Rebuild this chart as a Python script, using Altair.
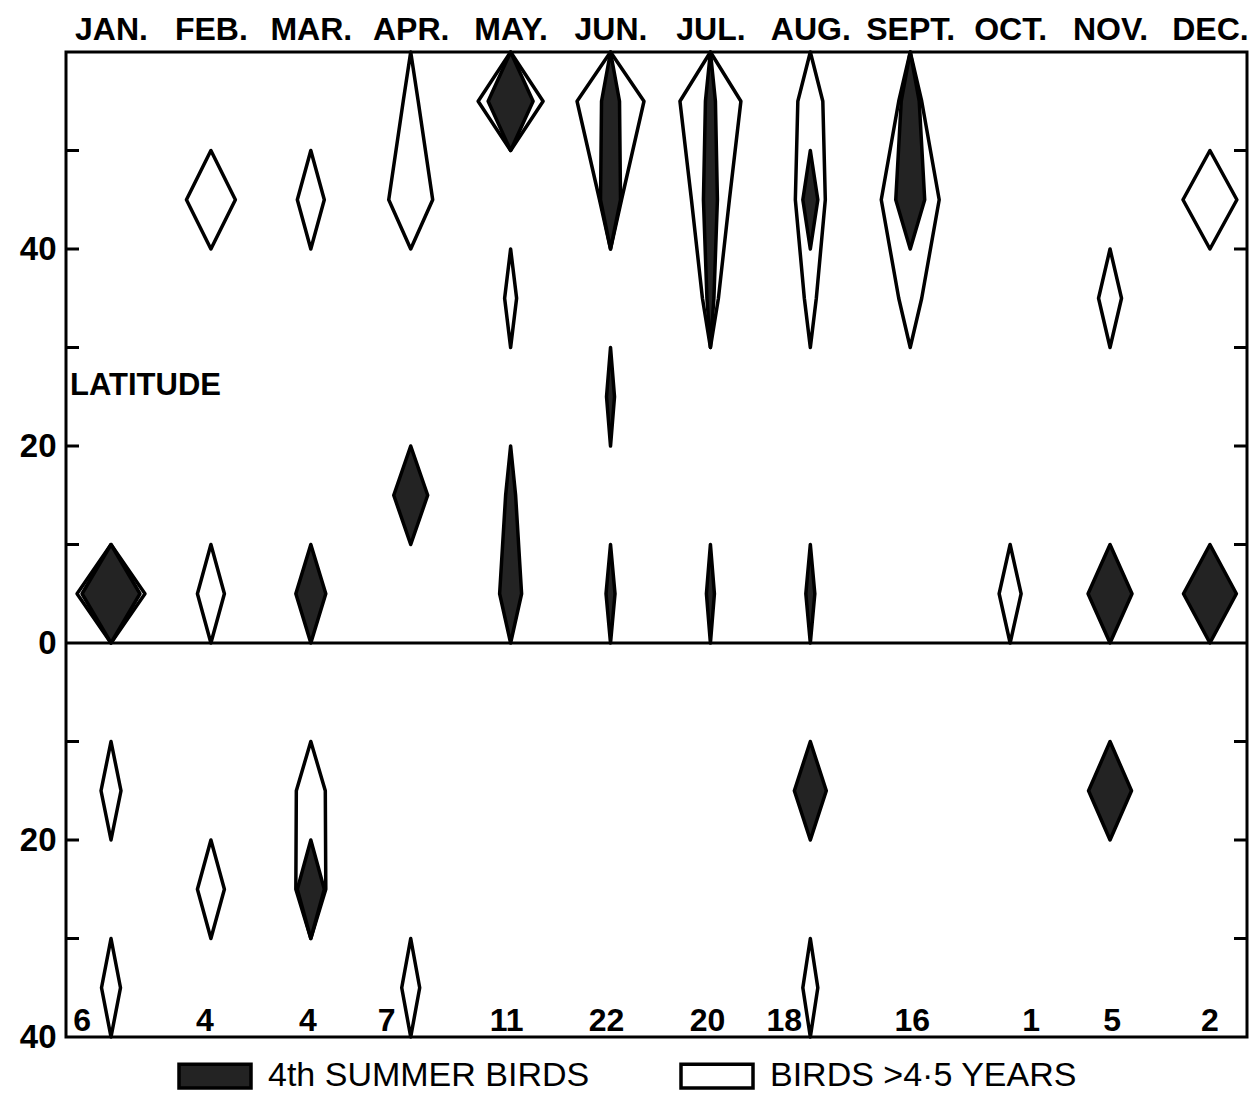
import json
import altair as alt
import pandas as pd

# ---------------- data ----------------
MONTHS = ["JAN.", "FEB.", "MAR.", "APR.", "MAY.", "JUN.", "JUL.", "AUG.", "SEPT.", "OCT.", "NOV.", "DEC."]
SAMPLE_N = [6, 4, 4, 7, 11, 22, 20, 18, 16, 1, 5, 2]
N_LABEL_SHIFT = [-0.29, -0.06, -0.03, -0.24, -0.04, -0.04, -0.03, -0.26, 0.02, 0.21, 0.02, 0.0]

SERIES_FILLED = "4th SUMMER BIRDS"
SERIES_OPEN = "BIRDS >4·5 YEARS"

# each kite: (month 1-12, [(latitude band centre, kite half-width), ...]); south negative
OPEN_KITES = [
    (1, [(5, 34)]), (1, [(-15, 10)]), (1, [(-35, 9.5)]),
    (2, [(45, 24.5)]), (2, [(5, 13.5)]), (2, [(-25, 13.5)]),
    (3, [(45, 13.5)]), (3, [(-15, 14.5), (-25, 15)]),
    (4, [(45, 22), (55, 7.5)]), (4, [(-35, 9)]),
    (5, [(55, 32.5)]), (5, [(35, 6)]),
    (6, [(45, 11), (55, 33.5)]),
    (7, [(35, 8), (45, 19), (55, 30.5)]),
    (8, [(35, 6), (45, 15), (55, 12.5)]), (8, [(-35, 7.5)]),
    (9, [(35, 11.5), (45, 29), (55, 11.5)]),
    (10, [(5, 11)]),
    (11, [(35, 11.5)]),
    (12, [(45, 27)]),
]

FILLED_KITES = [
    (1, [(5, 29)]),
    (3, [(5, 15)]), (3, [(-25, 13.5)]),
    (4, [(15, 17)]),
    (5, [(55, 22.5)]), (5, [(5, 11), (15, 5)]),
    (6, [(45, 10), (55, 9)]), (6, [(25, 4)]), (6, [(5, 4.5)]),
    (7, [(35, 3.5), (45, 7), (55, 5)]), (7, [(5, 4)]),
    (8, [(45, 7.5)]), (8, [(5, 4.5)]), (8, [(-15, 16)]),
    (9, [(45, 14.5), (55, 9)]),
    (11, [(5, 22)]), (11, [(-15, 21.5)]),
    (12, [(5, 26.5)]),
]

TICK_LATS = [50, 40, 30, 20, 10, -10, -20, -30]
Y_LABEL_LATS = [40, 20, 0, -20, -40]

# ---------------- build tables ----------------
rows = []
kid = 0
for series, kites in ((SERIES_OPEN, OPEN_KITES), (SERIES_FILLED, FILLED_KITES)):
    for month, bands in kites:
        kid += 1
        bands = sorted(bands)
        pts = [(bands[0][0] - 5, 0)] + list(bands) + [(bands[-1][0] + 5, 0)]
        for lat, w in pts:
            rows.append({"kite": f"k{kid:02d}", "series": series, "month": month, "lat": lat, "w": w})
kites_df = pd.DataFrame(rows)

counts_df = pd.DataFrame({
    "month": list(range(1, 13)),
    "n": SAMPLE_N,
    "shift": N_LABEL_SHIFT,
})

W, H = 1181, 985
FONT = "Liberation Sans"

xscale = alt.Scale(domain=[0.5495, 12.371], nice=False, zero=False)
yscale = alt.Scale(domain=[-40, 60], nice=False, zero=False)

fill_enc = alt.Fill(
    "series:N",
    scale=alt.Scale(domain=[SERIES_FILLED, SERIES_OPEN], range=["#232323", "white"]),
    legend=alt.Legend(
        title=None, orient="none", legendX=111, legendY=986, direction="horizontal",
        symbolType="M-1,-0.33H1V0.33H-1Z", symbolSize=5184,
        symbolStrokeColor="black", symbolStrokeWidth=3.5,
        labelFont=FONT, labelFontSize=34, labelColor="black",
        labelOffset=15, columnPadding=84, padding=0, labelLimit=800,
    ),
)

month_expr = json.dumps(MONTHS) + "[datum.value - 1]"

x_axis = alt.Axis(
    orient="top", values=list(range(1, 13)), labelExpr=month_expr, title=None,
    ticks=False, domain=False, grid=False,
    labelFont=FONT, labelFontSize=32, labelFontWeight="bold", labelColor="black",
    labelPadding=6, labelAngle=0,
)
y_axis = alt.Axis(
    values=Y_LABEL_LATS, labelExpr="'' + abs(datum.value)", title=None,
    ticks=False, domain=False, grid=False,
    labelFont=FONT, labelFontSize=33, labelFontWeight="bold", labelColor="black",
    labelPadding=10,
)


def X(field):
    return alt.X(field, scale=xscale, axis=x_axis)


def Y(field):
    return alt.Y(field, scale=yscale, axis=y_axis)


area = alt.Chart(kites_df).transform_calculate(
    lo="datum.month - datum.w * 0.01",
    hi="datum.month + datum.w * 0.01",
).mark_area(
    orient="horizontal", stroke="black", strokeWidth=3.5, strokeJoin="round"
)

open_layer = area.transform_filter(alt.datum.series == SERIES_OPEN).encode(
    y=Y("lat:Q"), x=X("lo:Q"), x2="hi:Q", fill=fill_enc, detail="kite:N",
)
filled_layer = area.transform_filter(alt.datum.series == SERIES_FILLED).encode(
    y=Y("lat:Q"), x=X("lo:Q"), x2="hi:Q", fill=fill_enc, detail="kite:N",
)

tick_df = pd.DataFrame({"lat": TICK_LATS})
left_ticks = alt.Chart(tick_df).mark_rule(color="black", strokeWidth=3).encode(
    y=Y("lat:Q"), x=alt.value(0), x2=alt.value(13)
)
right_ticks = alt.Chart(tick_df).mark_rule(color="black", strokeWidth=3).encode(
    y=Y("lat:Q"), x=alt.value(W - 13), x2=alt.value(W)
)
zero_line = alt.Chart(pd.DataFrame({"lat": [0]})).mark_rule(color="black", strokeWidth=3).encode(
    y=Y("lat:Q")
)

count_text = alt.Chart(counts_df).transform_calculate(
    xpos="datum.month + datum.shift", ypos="-39.4"
).mark_text(
    font=FONT, fontSize=32, fontWeight="bold", color="black", baseline="alphabetic", align="center"
).encode(
    x=X("xpos:Q"), y=Y("ypos:Q"), text="n:Q",
)

lat_text = alt.Chart(pd.DataFrame({"t": ["LATITUDE"], "m": [0.5495], "lat": [25.2]})).mark_text(
    font=FONT, fontSize=31, fontWeight="bold", color="black", baseline="alphabetic", align="left", dx=4
).encode(
    x=X("m:Q"), y=Y("lat:Q"), text="t:N",
)

chart = alt.layer(
    open_layer, filled_layer, zero_line, left_ticks, right_ticks, count_text, lat_text
).properties(
    width=W, height=H,
    autosize=alt.AutoSizeParams(type="none"),
    padding={"left": 58, "top": 44, "right": 2, "bottom": 56},
    background="white",
).configure_view(
    stroke="black", strokeWidth=3
)

chart.save("out.html", embed_options={"renderer": "svg", "actions": False})
